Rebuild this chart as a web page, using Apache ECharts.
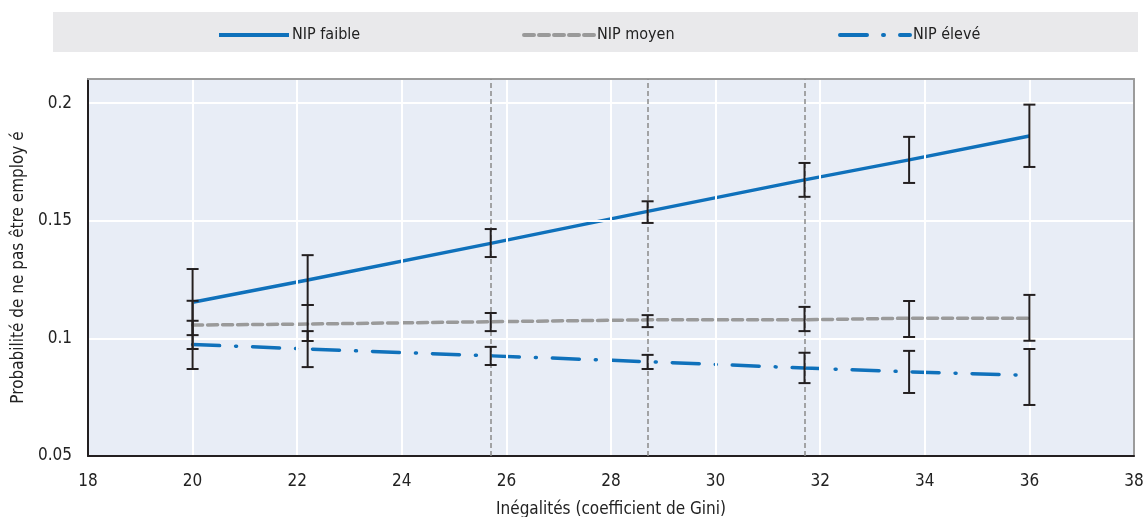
<!DOCTYPE html>
<html>
<head>
<meta charset="utf-8">
<script src="https://cdn.jsdelivr.net/npm/echarts@6/dist/echarts.min.js"></script>
<style>
  html, body { margin: 0; padding: 0; background: #fff; }
  #chart { width: 1145px; height: 517px; }
</style>
</head>
<body>
<div id="chart"></div>
<script>
// valeurs
const gini = [20, 22.2, 25.7, 28.7, 31.7, 33.7, 36];
const cutoffs = [25.7, 28.7, 31.7];

const faible   = [0.1154, 0.1248, 0.1404, 0.1540, 0.1674, 0.1759, 0.1861];
const faibleLo = [0.1014, 0.1142, 0.1346, 0.1491, 0.1602, 0.1661, 0.1729];
const faibleHi = [0.1295, 0.1354, 0.1465, 0.1583, 0.1746, 0.1857, 0.1994];

const moyen   = [0.1057, 0.1061, 0.1071, 0.1079, 0.1079, 0.1086, 0.1086];
const moyenLo = [0.0955, 0.0989, 0.1031, 0.1048, 0.1031, 0.1006, 0.0990];
const moyenHi = [0.1160, 0.1142, 0.1108, 0.1099, 0.1134, 0.1159, 0.1185];

const eleve   = [0.0974, 0.0955, 0.0926, 0.0901, 0.0874, 0.0858, 0.0843];
const eleveLo = [0.0870, 0.0878, 0.0887, 0.0870, 0.0810, 0.0768, 0.0717];
const eleveHi = [0.1075, 0.1031, 0.0964, 0.0930, 0.0939, 0.0947, 0.0955];

const seriesNames = ['NIP faible', 'NIP moyen', 'NIP élevé'];

const colors = {
    blue: '#0f71bb',
    gray: '#9a9a9a',
    bar: '#231f20',
    frame: '#9b9b9b',
    plotBg: '#e8edf6',
    legendBg: '#e9e9eb'
};
const FONT = '"Liberation Sans Narrow", "DejaVu Sans Condensed", Arial, sans-serif';
const TXT = '#222';

const chart = echarts.init(document.getElementById('chart'));

const pts = vals => gini.map((x, i) => [x, vals[i]]);
const bars = (lo, hi) => gini.map((x, i) => [x, lo[i], hi[i]]);

function renderErr(params, api) {
    const x = api.value(0);
    const a = api.coord([x, api.value(1)]);
    const b = api.coord([x, api.value(2)]);
    const w = 6;
    const style = { stroke: colors.bar, lineWidth: 2 };
    return {
        type: 'group',
        children: [
            { type: 'line', shape: { x1: a[0], y1: a[1], x2: b[0], y2: b[1] }, style },
            { type: 'line', shape: { x1: a[0] - w, y1: a[1], x2: a[0] + w, y2: a[1] }, style },
            { type: 'line', shape: { x1: b[0] - w, y1: b[1], x2: b[0] + w, y2: b[1] }, style }
        ]
    };
}

const errSeries = (lo, hi) => ({
    type: 'custom',
    renderItem: renderErr,
    data: bars(lo, hi),
    encode: { x: 0, y: [1, 2] },
    z: 5,
    silent: true
});

const legendAt = (name, left) => ({
    data: [name],
    left: left,
    top: 22,
    itemWidth: 70,
    itemHeight: 14,
    itemGap: 0,
    itemStyle: { opacity: 0 },
    lineStyle: { width: 4 },
    textStyle: { color: TXT, fontSize: 16, fontFamily: FONT, padding: [0, 0, 0, -2] }
});

// axes "cadre" : haut et droite en gris, sans étiquettes
const frameAxis = {
    type: 'value',
    z: 4,
    axisLine: { show: true, onZero: false, lineStyle: { color: colors.frame, width: 2 } },
    axisTick: { show: false },
    axisLabel: { show: false },
    splitLine: { show: false }
};

const option = {
    backgroundColor: '#fff',
    animation: false,
    graphic: [{
        type: 'rect',
        left: 53, top: 12,
        shape: { width: 1085, height: 40 },
        style: { fill: colors.legendBg },
        z: -10
    }],
    legend: [
        legendAt(seriesNames[0], 212),
        legendAt(seriesNames[1], 517),
        legendAt(seriesNames[2], 833)
    ],
    grid: {
        left: 88, right: 11, top: 79, bottom: 61,
        outerBoundsMode: 'none',
        show: true,
        backgroundColor: colors.plotBg,
        borderWidth: 0
    },
    xAxis: [
        {
            type: 'value',
            min: 18, max: 38, interval: 2,
            name: 'Inégalités (coefficient de Gini)',
            nameLocation: 'middle',
            nameGap: 45,
            nameTextStyle: { color: TXT, fontSize: 17, fontFamily: FONT },
            axisLine: { show: true, onZero: false, lineStyle: { color: colors.bar, width: 2 } },
            axisTick: { show: false },
            axisLabel: { color: TXT, fontSize: 17, fontFamily: FONT, margin: 17 },
            splitLine: { show: true, lineStyle: { color: '#fff', width: 2 } },
            z: 4
        },
        Object.assign({}, frameAxis, { position: 'top', min: 18, max: 38 })
    ],
    yAxis: [
        {
            type: 'value',
            min: 0.05, max: 0.2103, interval: 0.05,
            name: 'Probabilité de ne pas être employ é',
            nameLocation: 'middle',
            nameGap: 59,
            nameTextStyle: { color: TXT, fontSize: 17, fontFamily: FONT },
            axisLine: { show: true, onZero: false, lineStyle: { color: colors.bar, width: 2 } },
            axisTick: { show: false },
            axisLabel: {
                color: TXT, fontSize: 17, fontFamily: FONT, margin: 16,
                showMaxLabel: false,
                formatter: v => String(+v.toFixed(2))
            },
            splitLine: { show: true, lineStyle: { color: '#fff', width: 2 } },
            z: 4
        },
        Object.assign({}, frameAxis, { position: 'right', min: 0.05, max: 0.2103 })
    ],
    series: [
        {
            name: seriesNames[0],
            type: 'line',
            data: pts(faible),
            symbol: 'none',
            lineStyle: { color: colors.blue, width: 3.5 },
            itemStyle: { color: colors.blue },
            z: 3,
            markLine: {
                silent: true,
                symbol: 'none',
                label: { show: false },
                lineStyle: { color: '#8a8a8a', width: 1.5, type: [5, 3] },
                data: cutoffs.map(v => ({ xAxis: v }))
            }
        },
        {
            name: seriesNames[1],
            type: 'line',
            data: pts(moyen),
            symbol: 'none',
            lineStyle: { color: colors.gray, width: 3.5, type: [10, 5], cap: 'round' },
            itemStyle: { color: colors.gray },
            z: 3
        },
        {
            name: seriesNames[2],
            type: 'line',
            data: pts(eleve),
            symbol: 'none',
            lineStyle: { color: colors.blue, width: 3.5, type: [27, 16, 1, 16], cap: 'round' },
            itemStyle: { color: colors.blue },
            z: 3
        },
        errSeries(faibleLo, faibleHi),
        errSeries(moyenLo, moyenHi),
        errSeries(eleveLo, eleveHi)
    ]
};

chart.setOption(option);
window.addEventListener('resize', () => chart.resize());
</script>
</body>
</html>
